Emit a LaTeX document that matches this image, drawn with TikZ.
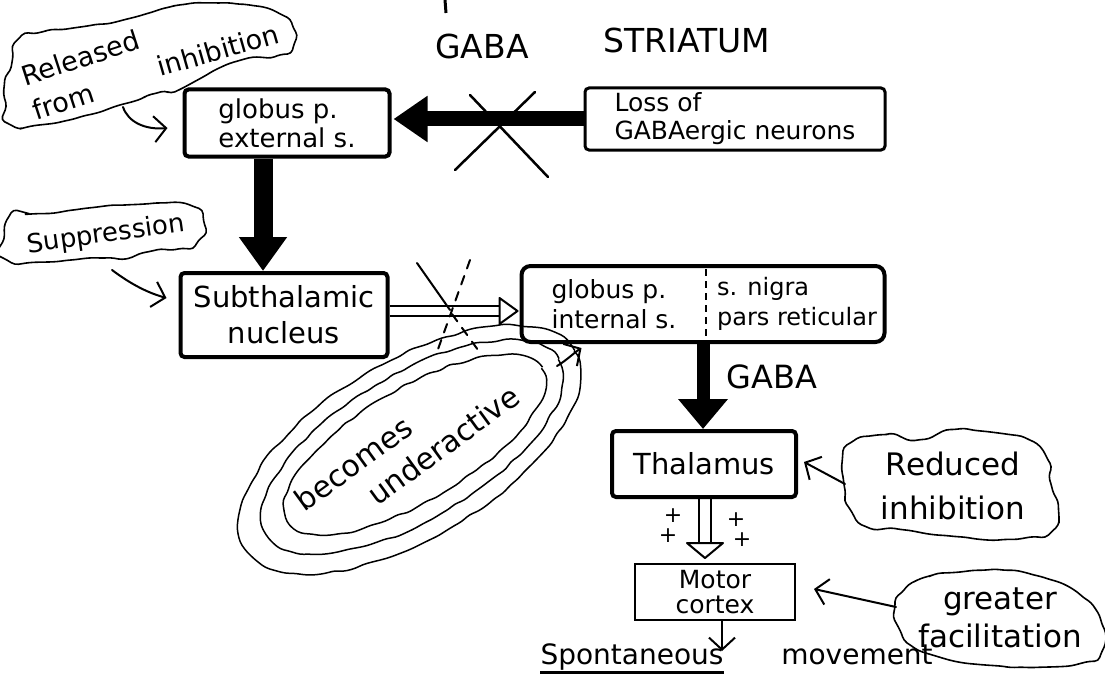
\documentclass[tikz,border=0pt]{standalone}
\usepackage{fontspec}
\setmainfont{DejaVu Sans}
\usetikzlibrary{arrows.meta,calc,decorations.pathmorphing}
\newcommand\fsz[1]{\fontsize{#1}{#1}\selectfont}
\begin{document}
\begin{tikzpicture}[x=1pt,y=-1pt,
  box/.style={draw, line width=4pt, rounded corners=4pt, inner sep=0pt, align=center},
  thinbox/.style={draw, line width=2pt, inner sep=0pt, align=center},
  cloudline/.style={line width=1.6pt, line join=round, decorate, decoration={random steps, segment length=10pt, amplitude=1pt}, rounded corners=4pt},
  hand/.style={line width=2pt, line cap=round},
  barb/.style={hand, -{Straight Barb[length=12pt,width=26pt,line width=2pt]}},
  txt/.style={inner sep=0pt, align=center},
  ring/.style={line width=1.5pt, decorate, decoration={random steps, segment length=10pt, amplitude=1.5pt}, rounded corners=4pt},
  hollowline/.style={line width=2pt},
]
\pgfmathsetseed{7}
\useasboundingbox (0,0) rectangle (1105,674);
% ---------- boxes ----------
\node[box, minimum width=205pt, minimum height=67pt, align=left,
      font=\fontsize{26}{29}\selectfont] (gpe) at (287,123) {globus p.\\external s.};
\node[box, line width=3pt, minimum width=300pt, minimum height=62pt, align=left,
      font=\fontsize{25}{28}\selectfont] (loss) at (735,119) {Loss of\\GABAergic neurons};
\node[box, minimum width=207pt, minimum height=84pt,
      font=\fontsize{29}{36}\selectfont] (stn) at (284,315) {Subthalamic\\nucleus};
\node[box, rounded corners=9pt, minimum width=363pt, minimum height=76pt] (gpi) at (703,304) {};
\node[txt, align=left, font=\fontsize{25}{30}\selectfont] (gpil) at (614,304) {globus p.\\internal s.};
\node[txt, align=left, font=\fontsize{24}{30}\selectfont] (gpir) at (797,304) {s. nigra\\pars reticular};
\draw[line width=1.5pt, dash pattern=on 7pt off 5pt] ($(gpi.north)+(3,5)$) -- ($(gpi.south)+(3,-5)$);
\node[box, minimum width=184pt, minimum height=66pt,
      font=\fontsize{29}{32}\selectfont] (thal) at (704,464) {Thalamus};
\node[thinbox, minimum width=160pt, minimum height=56pt,
      font=\fontsize{25}{25}\selectfont] (motor) at (715,592) {Motor\\cortex};
% ---------- labels ----------
\node[txt] (gaba1) at (482,46) {\fsz{33}GABA};
\node[txt] (striatum) at (687,40) {\fsz{33}STRIATUM};
\node[txt] (gaba2) at (772,377) {\fsz{32}GABA};
\node[txt, anchor=base] (spont) at (632,664) {\fsz{28}Spontaneous};
\node[txt, anchor=base] (move) at (857,664) {\fsz{28}movement};
\draw[line width=4pt] (spont.base west) ++(0,9) -- ($(spont.base east)+(0,9)$);
\node[txt] (plus1) at (673,516) {\fsz{22}+};
\node[txt] (plus2) at (668,536) {\fsz{22}+};
\node[txt] (plus3) at (736,520) {\fsz{22}+};
\node[txt] (plus4) at (742,540) {\fsz{22}+};
% top mark
\draw[line width=3pt] (445,0) -- (446,13);
% ---------- clouds ----------
\draw[cloudline] plot[smooth cycle, tension=0.6] coordinates {
 (15,43) (38,33) (73,28) (111,23) (142,15) (157,10) (180,5) (215,3) (249,5) (276,12)
 (291,25) (295,40) (284,53) (249,58) (226,65) (203,77) (184,88) (161,92) (138,100)
 (126,103) (107,110) (69,120) (38,125) (15,127) (8,110) (4,90) (11,67)};
\node[txt, rotate=18, align=left, font=\fontsize{27}{36}\selectfont] (rel1) at (86,75) {Released\\from};
\node[txt, rotate=16] (rel3) at (218,50) {\fsz{27}inhibition};
\draw[cloudline] plot[smooth cycle, tension=0.6] coordinates {
 (7,220) (21,215) (54,213) (89,208) (125,205) (161,203) (189,205) (202,217) (200,237)
 (186,247) (157,250) (136,257) (107,258) (71,260) (43,262) (11,262) (5,243)};
\node[txt, rotate=8] (supp) at (106,235) {\fsz{26}Suppression};
\draw[cloudline] plot[smooth cycle, tension=0.6] coordinates {
 (848,445) (880,435) (915,440) (950,430) (990,432) (1025,438) (1045,455) (1050,480)
 (1058,505) (1055,528) (1030,537) (990,540) (950,536) (905,530) (870,528) (852,512)
 (845,490) (842,465)};
\node[txt, font=\fontsize{31}{44}\selectfont] (red) at (953,486) {Reduced\\inhibition};
\draw[cloudline] plot[smooth cycle, tension=0.6] coordinates {
 (900,595) (925,578) (960,572) (1000,570) (1045,578) (1080,595) (1100,620) (1103,648)
 (1085,662) (1045,667) (1000,666) (950,660) (915,648) (900,630) (895,612)};
\node[txt, font=\fontsize{31}{38}\selectfont] (grt) at (1000,618) {greater\\facilitation};
% becomes underactive rings
\begin{scope}[rotate around={31:(412,446)}]
  \draw[ring] (415,446) ellipse [x radius=148, y radius=56];
  \draw[ring] (412,447) ellipse [x radius=170, y radius=72];
  \draw[ring] (408,448) ellipse [x radius=192, y radius=88];
\end{scope}
\node[txt, rotate=36, align=left, font=\fontsize{30}{38}\selectfont] (bec) at (407,448)
  {becomes\\\hspace*{62pt}underactive};
% ---------- connectors ----------
% striatum -> GPe (thick, crossed)
\draw[line width=15pt, shorten >=2pt, -{Triangle[length=34pt,width=44pt]}] (loss.west) -- (loss.west -| gpe.east);
\draw[hand, line width=2.5pt] (470,95) -- (548,177);
\draw[hand, line width=2.5pt] (535,92) -- (455,170);
% GPe -> STN
\coordinate (p1) at ($(gpe.south)+(-24,0)$);
\draw[line width=19pt, -{Triangle[length=34pt,width=46pt]}] (p1) -- (p1 |- stn.north);
% STN -> GPi (hollow)
\coordinate (s1) at ($(stn.east)+(0,-4)$);
\coordinate (t1) at (s1 -| gpi.west);
\draw[hollowline] ($(s1)+(0,-5)$) -- ($(t1)+(-20,-5)$);
\draw[hollowline] ($(s1)+(0,5)$) -- ($(t1)+(-20,5)$);
\draw[hollowline, fill=white, line join=round] ($(t1)+(-20,-13)$) -- ($(t1)+(-2,0)$) -- ($(t1)+(-20,13)$) -- cycle;
% dashed cross over it
\draw[hand] (417,263) -- (450,310);
\draw[hand, dash pattern=on 9pt off 8pt] (452,314) -- (478,350);
\draw[hand, dash pattern=on 9pt off 8pt] (470,260) -- (437,352);
% GPi -> thalamus
\draw[line width=13pt, -{Triangle[length=30pt,width=48pt]}] (gpi.south) -- (gpi.south |- thal.north);
% thalamus -> motor cortex (hollow)
\coordinate (tm) at (thal.south);
\coordinate (tip2) at ($(motor.north)+(-10,-5)$);
\coordinate (tb) at (tm -| tip2);
\draw[hollowline] ($(tb)+(-6,0)$) -- ($(tip2)+(-6,-15)$);
\draw[hollowline] ($(tb)+(6,0)$) -- ($(tip2)+(6,-15)$);
\draw[hollowline, fill=white, line join=round] ($(tip2)+(-18,-15)$) -- (tip2) -- ($(tip2)+(18,-15)$) -- cycle;
% motor cortex -> movement
\coordinate (sp) at ($(motor.south)+(7,30)$);
\draw[barb] ($(motor.south)+(7,0)$) -- (sp);
% cloud arrows
\coordinate (rl) at (123,107);
\draw[barb] (rl) .. controls (128,122) and (145,130) .. ($(gpe.west)+(-15,5)$);
\coordinate (su) at (112,270);
\draw[barb] (su) .. controls (128,282) and (145,292) .. ($(stn.west)+(-12,-17)$);
\coordinate (rc) at (845,484);
\draw[barb] (rc) -- ($(thal.east)+(6,-2)$);
\coordinate (gc) at (896,607);
\draw[barb] (gc) -- ($(motor.east)+(18,-3)$);
\coordinate (ua) at (557,366);
\draw[barb] (ua) .. controls (567,360) and (575,352) .. ($(gpi.south west)+(62,4)$);
\end{tikzpicture}
\end{document}
